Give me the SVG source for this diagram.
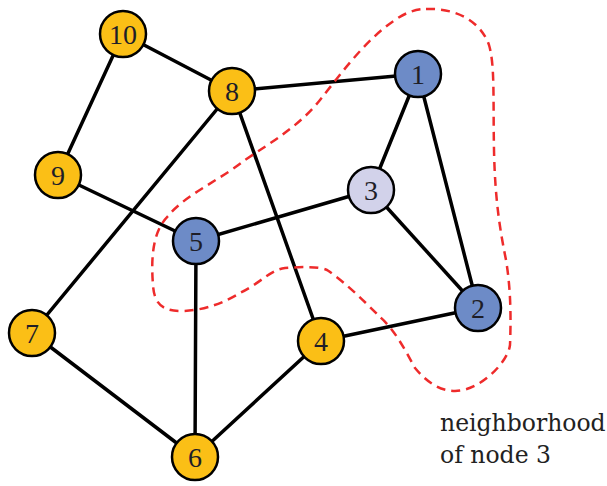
<svg xmlns="http://www.w3.org/2000/svg" width="607" height="486" viewBox="0 0 607 486">
<style>
.e{stroke:#000;stroke-width:3.5;stroke-linecap:round}
.n circle{stroke:#000;stroke-width:2.5}
.y{fill:#FBBF16}
.b{fill:#6D8BC7}
.l{fill:#D2D2EA}
.n text{font-family:"Liberation Serif",serif;font-size:28px;fill:#1e1e28;text-anchor:middle}
.lab{font-family:"DejaVu Serif",serif;font-size:23.5px;fill:#222}
</style>
<rect width="607" height="486" fill="#fff"/>
<g id="connectors">
<line class="e" x1="123" y1="34" x2="232" y2="91"/>
<line class="e" x1="123" y1="34" x2="58" y2="175"/>
<line class="e" x1="232" y1="91" x2="418" y2="74"/>
<line class="e" x1="232" y1="91" x2="32" y2="333"/>
<line class="e" x1="232" y1="91" x2="321" y2="341"/>
<line class="e" x1="58" y1="175" x2="196" y2="241"/>
<line class="e" x1="196" y1="241" x2="371" y2="190"/>
<line class="e" x1="196" y1="241" x2="195" y2="457"/>
<line class="e" x1="418" y1="74" x2="371" y2="190"/>
<line class="e" x1="418" y1="74" x2="478" y2="308"/>
<line class="e" x1="371" y1="190" x2="478" y2="308"/>
<line class="e" x1="321" y1="341" x2="478" y2="308"/>
<line class="e" x1="321" y1="341" x2="195" y2="457"/>
<line class="e" x1="32" y1="333" x2="195" y2="457"/>
</g>
<path id="neighborhood" d="M 426,9 C 455,8 480,20 489,45 C 495,65 493,100 494,150 C 495,200 500,230 506,260 C 511,290 511,320 510,345 C 508,362 480,391 455,391 C 438,391 425,380 415,368 C 405,350 395,330 380,317 C 365,302 345,282 327,270 C 318,266 300,267 285,268 C 270,270 262,282 240,293 C 225,302 205,311 180,311 C 162,311 154,303 153,285 C 151,260 152,232 168,216 C 185,195 220,180 245,160 C 275,140 300,125 320,100 C 340,75 365,40 395,20 C 405,13 415,9 426,9 Z" fill="none" stroke="#EE2B2B" stroke-width="2.5" stroke-dasharray="9 6"/>
<g id="node10" class="n"><circle class="y" cx="123" cy="34" r="23"/><text x="123" y="43.5">10</text></g>
<g id="node8" class="n"><circle class="y" cx="232" cy="91" r="23"/><text x="232" y="100.5">8</text></g>
<g id="node1" class="n"><circle class="b" cx="418" cy="74" r="23"/><text x="418" y="83.5">1</text></g>
<g id="node9" class="n"><circle class="y" cx="58" cy="175" r="23"/><text x="58" y="184.5">9</text></g>
<g id="node3" class="n"><circle class="l" cx="371" cy="190" r="23"/><text x="371" y="199.5">3</text></g>
<g id="node5" class="n"><circle class="b" cx="196" cy="241" r="23"/><text x="196" y="250.5">5</text></g>
<g id="node2" class="n"><circle class="b" cx="478" cy="308" r="23"/><text x="478" y="317.5">2</text></g>
<g id="node7" class="n"><circle class="y" cx="32" cy="333" r="23"/><text x="32" y="342.5">7</text></g>
<g id="node4" class="n"><circle class="y" cx="321" cy="341" r="23"/><text x="321" y="350.5">4</text></g>
<g id="node6" class="n"><circle class="y" cx="195" cy="457" r="23"/><text x="195" y="466.5">6</text></g>
<text class="lab" x="440" y="431">neighborhood</text>
<text class="lab" x="440" y="463">of node 3</text>
</svg>
